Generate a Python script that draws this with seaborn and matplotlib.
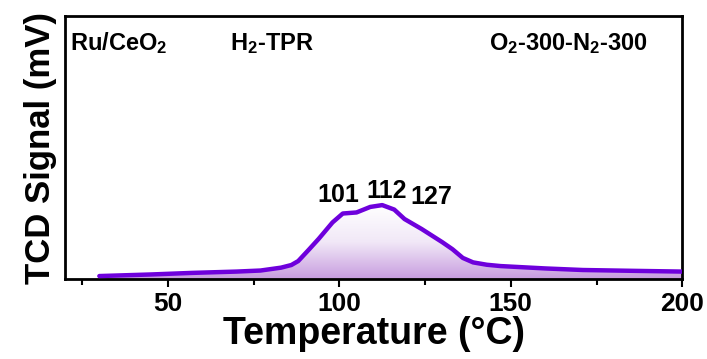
import numpy as np
import pandas as pd
import matplotlib
matplotlib.use("Agg")
import matplotlib.pyplot as plt
import seaborn as sns
from matplotlib.colors import LinearSegmentedColormap
from matplotlib.ticker import MultipleLocator

temperature = [30, 45, 57, 70, 77, 83, 86, 88, 91, 94, 98, 101, 105, 109, 112.5, 116, 119, 124, 130, 133, 136, 139, 143, 147, 160, 171, 185, 200]
signal = [0.011, 0.017, 0.023, 0.028, 0.032, 0.043, 0.053, 0.068, 0.11, 0.153, 0.215, 0.249, 0.253, 0.274, 0.281, 0.264, 0.228, 0.19, 0.14, 0.113, 0.08, 0.063, 0.054, 0.049, 0.04, 0.034, 0.031, 0.028]
peak_labels = ["101", "112", "127"]
peak_label_x = [99.6, 113.9, 126.8]
peak_label_y = [0.319, 0.335, 0.31]

sns.set_style("white")
plt.rcParams['font.family'] = ['Liberation Sans', 'DejaVu Sans']
plt.rcParams['font.weight'] = 'bold'
plt.rcParams['text.color'] = 'black'
plt.rcParams['axes.labelcolor'] = 'black'
plt.rcParams['xtick.color'] = 'black'
plt.rcParams['mathtext.fontset'] = 'custom'
plt.rcParams['mathtext.rm'] = 'Liberation Sans:bold'
plt.rcParams['mathtext.it'] = 'Liberation Sans:bold'
plt.rcParams['mathtext.bf'] = 'Liberation Sans:bold'
plt.rcParams['mathtext.default'] = 'rm'

df = pd.DataFrame({"T": temperature, "S": signal})

fig = plt.figure(figsize=(7.07, 3.59), dpi=100)
ax = fig.add_axes([0.092, 0.223, 0.873, 0.732])

# gradient fill under curve
poly = ax.fill_between(df["T"], 0, df["S"], color="none", lw=0)
cmap = LinearSegmentedColormap.from_list("g", ["#ffffff", "#f1e8f7", "#c79cdf"])
grad = np.linspace(0, 1, 256).reshape(-1, 1)
im = ax.imshow(grad, extent=[20, 200, 0, max(signal)], origin="upper", aspect="auto", cmap=cmap, zorder=1)
path = poly.get_paths()[0]
im.set_clip_path(path, transform=ax.transData)

sns.lineplot(data=df, x="T", y="S", ax=ax, color="#6e00dc", lw=3.2, zorder=3,
             solid_joinstyle="round", solid_capstyle="round")

for lab, x, y in zip(peak_labels, peak_label_x, peak_label_y):
    ax.text(x, y, lab, ha="center", va="center", fontsize=18, fontweight="bold")

ax.text(0.008, 0.897, r"Ru/CeO$_2$", transform=ax.transAxes, fontsize=17, fontweight="bold", va="center", ha="left")
ax.text(0.267, 0.897, r"H$_2$-TPR", transform=ax.transAxes, fontsize=17, fontweight="bold", va="center", ha="left")
ax.text(0.945, 0.897, r"O$_2$-300-N$_2$-300", transform=ax.transAxes, fontsize=17, fontweight="bold", va="center", ha="right")

ax.set_xlim(20, 200)
ax.set_ylim(0, 1)
ax.set_xticks([50, 100, 150, 200])
ax.xaxis.set_minor_locator(MultipleLocator(25))
ax.set_yticks([])
ax.tick_params(axis="x", which="major", direction="out", length=6, width=1.5, labelsize=19, bottom=True)
ax.tick_params(axis="x", which="minor", direction="out", length=4, width=1.5, bottom=True)
for lab in ax.get_xticklabels():
    lab.set_fontweight("bold")
for s in ax.spines.values():
    s.set_linewidth(2)
    s.set_color("black")

ax.set_xlabel("Temperature (°C)", fontsize=27, fontweight="bold", labelpad=0)
ax.set_ylabel("TCD Signal (mV)", fontsize=25, fontweight="bold", labelpad=6)

fig.savefig("out.png", dpi=100)
